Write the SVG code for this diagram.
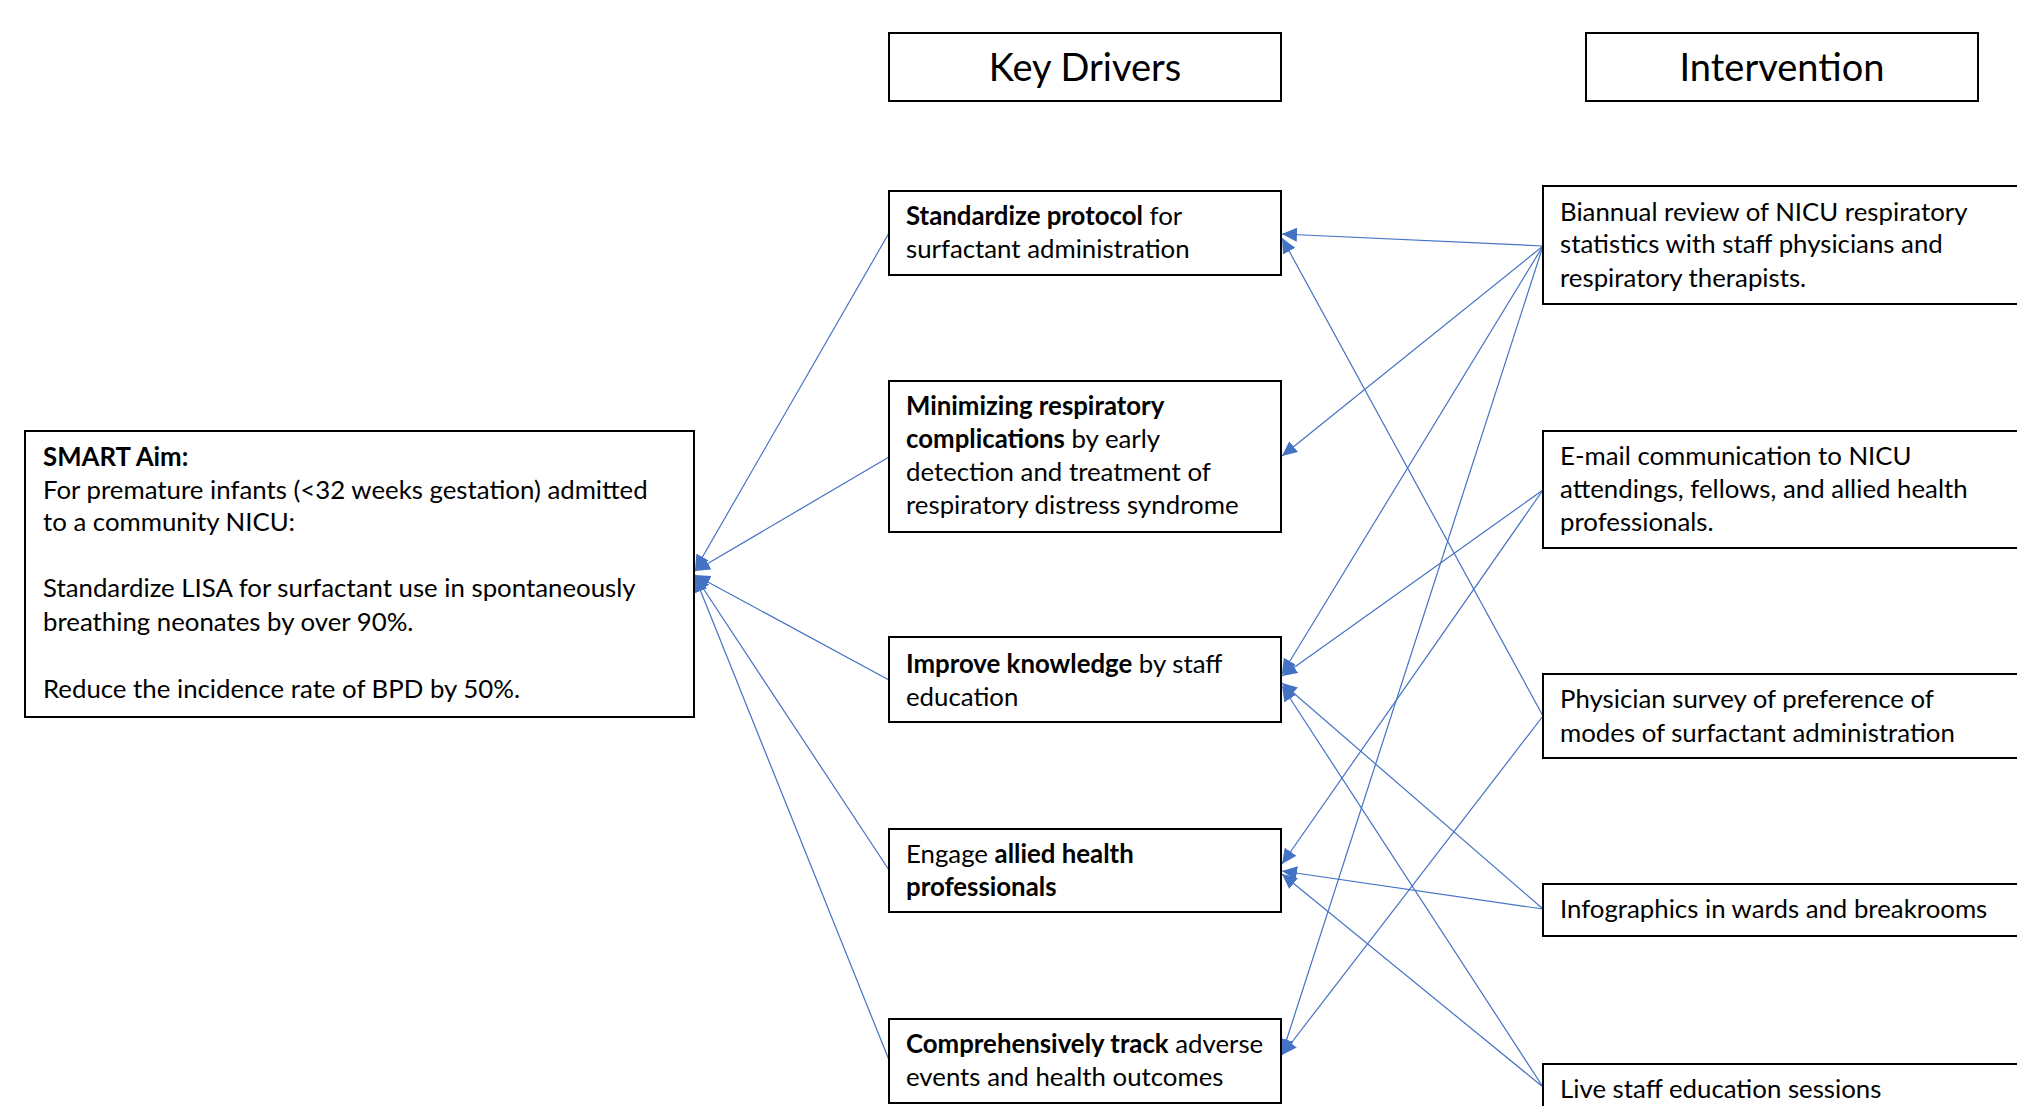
<svg xmlns="http://www.w3.org/2000/svg" width="2017" height="1106" viewBox="0 0 2017 1106">
<style>
.box{fill:#fff;stroke:#000;stroke-width:2}
.t{font-family:Lato,"Open Sans","Liberation Sans",sans-serif;font-size:25.8px;fill:#000}
.h{font-family:Lato,"Open Sans","Liberation Sans",sans-serif;font-size:38px;fill:#000;text-anchor:middle}
.b{font-weight:bold}
.c{fill:none;stroke:#4472C4;stroke-width:1.2}
</style>
<defs>
<marker id="ah" markerUnits="userSpaceOnUse" markerWidth="16" markerHeight="14" refX="15" refY="7" orient="auto">
<path d="M0,0 L15,7 L0,14 Z" fill="#4472C4"/>
</marker>
</defs>
<rect width="2017" height="1106" fill="#fff"/>
<g id="connectors">
<line class="c" x1="889" y1="233" x2="695" y2="570" marker-end="url(#ah)"/>
<line class="c" x1="889" y1="457" x2="695" y2="571" marker-end="url(#ah)"/>
<line class="c" x1="889" y1="680" x2="695" y2="575" marker-end="url(#ah)"/>
<line class="c" x1="889" y1="870" x2="695" y2="576" marker-end="url(#ah)"/>
<line class="c" x1="889" y1="1060" x2="695" y2="577" marker-end="url(#ah)"/>
<line class="c" x1="1543" y1="246" x2="1282" y2="234" marker-end="url(#ah)"/>
<line class="c" x1="1543" y1="246" x2="1282" y2="456" marker-end="url(#ah)"/>
<line class="c" x1="1543" y1="246" x2="1282" y2="674" marker-end="url(#ah)"/>
<line class="c" x1="1543" y1="246" x2="1282" y2="1054" marker-end="url(#ah)"/>
<line class="c" x1="1543" y1="490" x2="1282" y2="676" marker-end="url(#ah)"/>
<line class="c" x1="1543" y1="490" x2="1282" y2="864" marker-end="url(#ah)"/>
<line class="c" x1="1543" y1="716" x2="1282" y2="238" marker-end="url(#ah)"/>
<line class="c" x1="1543" y1="716" x2="1282" y2="1055" marker-end="url(#ah)"/>
<line class="c" x1="1543" y1="909" x2="1282" y2="683" marker-end="url(#ah)"/>
<line class="c" x1="1543" y1="909" x2="1282" y2="871" marker-end="url(#ah)"/>
<line class="c" x1="1543" y1="1087" x2="1282" y2="686" marker-end="url(#ah)"/>
<line class="c" x1="1543" y1="1087" x2="1282" y2="874" marker-end="url(#ah)"/>
</g>
<g id="smart-aim">
<rect class="box" x="25" y="431" width="669" height="286"/>
<text class="t" x="43" y="466"><tspan class="b">SMART Aim:</tspan></text>
<text class="t" x="43" y="499">For premature infants (&lt;32 weeks gestation) admitted</text>
<text class="t" x="43" y="531">to a community NICU:</text>
<text class="t" x="43" y="597">Standardize LISA for surfactant use in spontaneously</text>
<text class="t" x="43" y="631">breathing neonates by over 90%.</text>
<text class="t" x="43" y="698">Reduce the incidence rate of BPD by 50%.</text>
</g>
<g id="header-key-drivers">
<rect class="box" x="889" y="33" width="392" height="68"/>
<text class="h" x="1085" y="81">Key Drivers</text>
</g>
<g id="header-intervention">
<rect class="box" x="1586" y="33" width="392" height="68"/>
<text class="h" x="1782" y="81">Intervention</text>
</g>
<g id="driver-standardize">
<rect class="box" x="889" y="191" width="392" height="84"/>
<text class="t" x="906" y="225"><tspan class="b">Standardize protocol</tspan> for</text>
<text class="t" x="906" y="258">surfactant administration</text>
</g>
<g id="driver-minimizing">
<rect class="box" x="889" y="381" width="392" height="151"/>
<text class="t" x="906" y="415"><tspan class="b">Minimizing respiratory</tspan></text>
<text class="t" x="906" y="448"><tspan class="b">complications</tspan> by early</text>
<text class="t" x="906" y="481">detection and treatment of</text>
<text class="t" x="906" y="514">respiratory distress syndrome</text>
</g>
<g id="driver-improve">
<rect class="box" x="889" y="637" width="392" height="85"/>
<text class="t" x="906" y="673"><tspan class="b">Improve knowledge</tspan> by staff</text>
<text class="t" x="906" y="706">education</text>
</g>
<g id="driver-engage">
<rect class="box" x="889" y="829" width="392" height="83"/>
<text class="t" x="906" y="863">Engage <tspan class="b">allied health</tspan></text>
<text class="t" x="906" y="896"><tspan class="b">professionals</tspan></text>
</g>
<g id="driver-track">
<rect class="box" x="889" y="1019" width="392" height="84"/>
<text class="t" x="906" y="1053"><tspan class="b">Comprehensively track</tspan> adverse</text>
<text class="t" x="906" y="1086">events and health outcomes</text>
</g>
<g id="int-biannual">
<rect class="box" x="1543" y="186" width="490" height="118"/>
<text class="t" x="1560" y="221">Biannual review of NICU respiratory</text>
<text class="t" x="1560" y="253">statistics with staff physicians and</text>
<text class="t" x="1560" y="287">respiratory therapists.</text>
</g>
<g id="int-email">
<rect class="box" x="1543" y="431" width="490" height="117"/>
<text class="t" x="1560" y="465">E-mail communication to NICU</text>
<text class="t" x="1560" y="498">attendings, fellows, and allied health</text>
<text class="t" x="1560" y="531">professionals.</text>
</g>
<g id="int-survey">
<rect class="box" x="1543" y="674" width="490" height="84"/>
<text class="t" x="1560" y="708">Physician survey of preference of</text>
<text class="t" x="1560" y="742">modes of surfactant administration</text>
</g>
<g id="int-infographics">
<rect class="box" x="1543" y="884" width="490" height="52"/>
<text class="t" x="1560" y="918">Infographics in wards and breakrooms</text>
</g>
<g id="int-live">
<rect class="box" x="1543" y="1064" width="490" height="60"/>
<text class="t" x="1560" y="1098">Live staff education sessions</text>
</g>
</svg>
